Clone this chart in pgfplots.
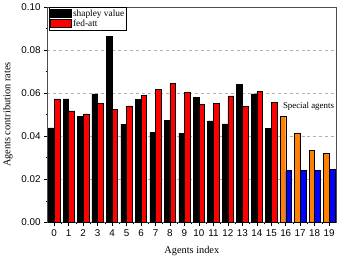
\documentclass[border=0pt]{standalone}
\usepackage{fontspec}
\setmainfont{Liberation Serif}
\newfontfamily\sansf{Liberation Sans}
\usepackage{pgfplots}
\pgfplotsset{compat=1.18}
\definecolor{sporange}{RGB}{255,128,0}
\begin{document}
\begin{tikzpicture}
\begin{axis}[
  scale only axis, width=292bp, height=218bp,
  xmin=-0.46, xmax=19.48, ymin=0, ymax=0.1,
  xtick={0,...,19}, minor x tick num=1,
  ytick={0,0.02,...,0.1}, minor y tick num=1,
  tick align=outside, major tick length=3.5bp, minor tick length=2bp,
  tick style={black, line width=0.6pt},
  xtick pos=bottom, ytick pos=left,
  ymajorgrids, grid style={gray!60, dashed, line width=0.4pt},
  /pgf/number format/assume math mode=true,
  yticklabel style={/pgf/number format/fixed, /pgf/number format/fixed zerofill, /pgf/number format/precision=2},
  scaled y ticks=false,
  tick label style={font=\sansf\fontsize{10}{12}\selectfont},
  xlabel={Agents index}, ylabel={Agents contribution rates},
  label style={font=\fontsize{10.5}{12}\selectfont},
  xlabel style={yshift=-3bp},
  ylabel style={yshift=2bp},
  axis line style={black!70, line width=0.8pt},
  legend style={at={(0.006,1)}, anchor=north west, font=\fontsize{9.5}{11}\selectfont, draw=black, line width=0.4pt, inner sep=0.5pt, row sep=-1.5pt, cells={anchor=west}},
  legend cell align=left,
]
\addlegendimage{legend image code/.code={\filldraw[fill=black, draw=black, line width=0.4pt] (0bp,-3.5bp) rectangle (21bp,4.5bp);}}
\addlegendentry{shapley value}
\addlegendimage{legend image code/.code={\filldraw[fill=red, draw=black, line width=0.4pt] (0bp,-3.5bp) rectangle (21bp,4.5bp);}}
\addlegendentry{fed-att}
\addplot[ybar, bar width=0.39, bar shift=-0.195, fill=black, draw=black, line width=0.5pt, forget plot] coordinates {
(0,0.0439) (1,0.0573) (2,0.0491) (3,0.0596) (4,0.0864) (5,0.0456) (6,0.0572) (7,0.0417)
(8,0.0474) (9,0.0414) (10,0.0581) (11,0.0471) (12,0.0457) (13,0.0639) (14,0.0596) (15,0.0437)};
\addplot[ybar, bar width=0.39, bar shift=0.195, fill=red, draw=black, line width=0.5pt, forget plot] coordinates {
(0,0.0573) (1,0.0518) (2,0.0503) (3,0.0552) (4,0.0526) (5,0.0541) (6,0.0590) (7,0.0616)
(8,0.0645) (9,0.0602) (10,0.0549) (11,0.0552) (12,0.0587) (13,0.0538) (14,0.0607) (15,0.0558)};
\addplot[ybar, bar width=0.39, bar shift=-0.195, fill=sporange, draw=black, line width=0.5pt, forget plot] coordinates {
(16,0.0492) (17,0.0413) (18,0.0333) (19,0.0321)};
\addplot[ybar, bar width=0.39, bar shift=0.195, fill=blue, draw=black, line width=0.5pt, forget plot] coordinates {
(16,0.0240) (17,0.0243) (18,0.0240) (19,0.0245)};
\node[font=\fontsize{9}{11}\selectfont] at (axis cs:17.57,0.0537) {Special agents};
\end{axis}
\path ([xshift=10bp]current axis.north east);
\path ([xshift=-44bp,yshift=-36bp]current axis.south west);
\path ([yshift=7bp]current axis.north);
\end{tikzpicture}
\end{document}
